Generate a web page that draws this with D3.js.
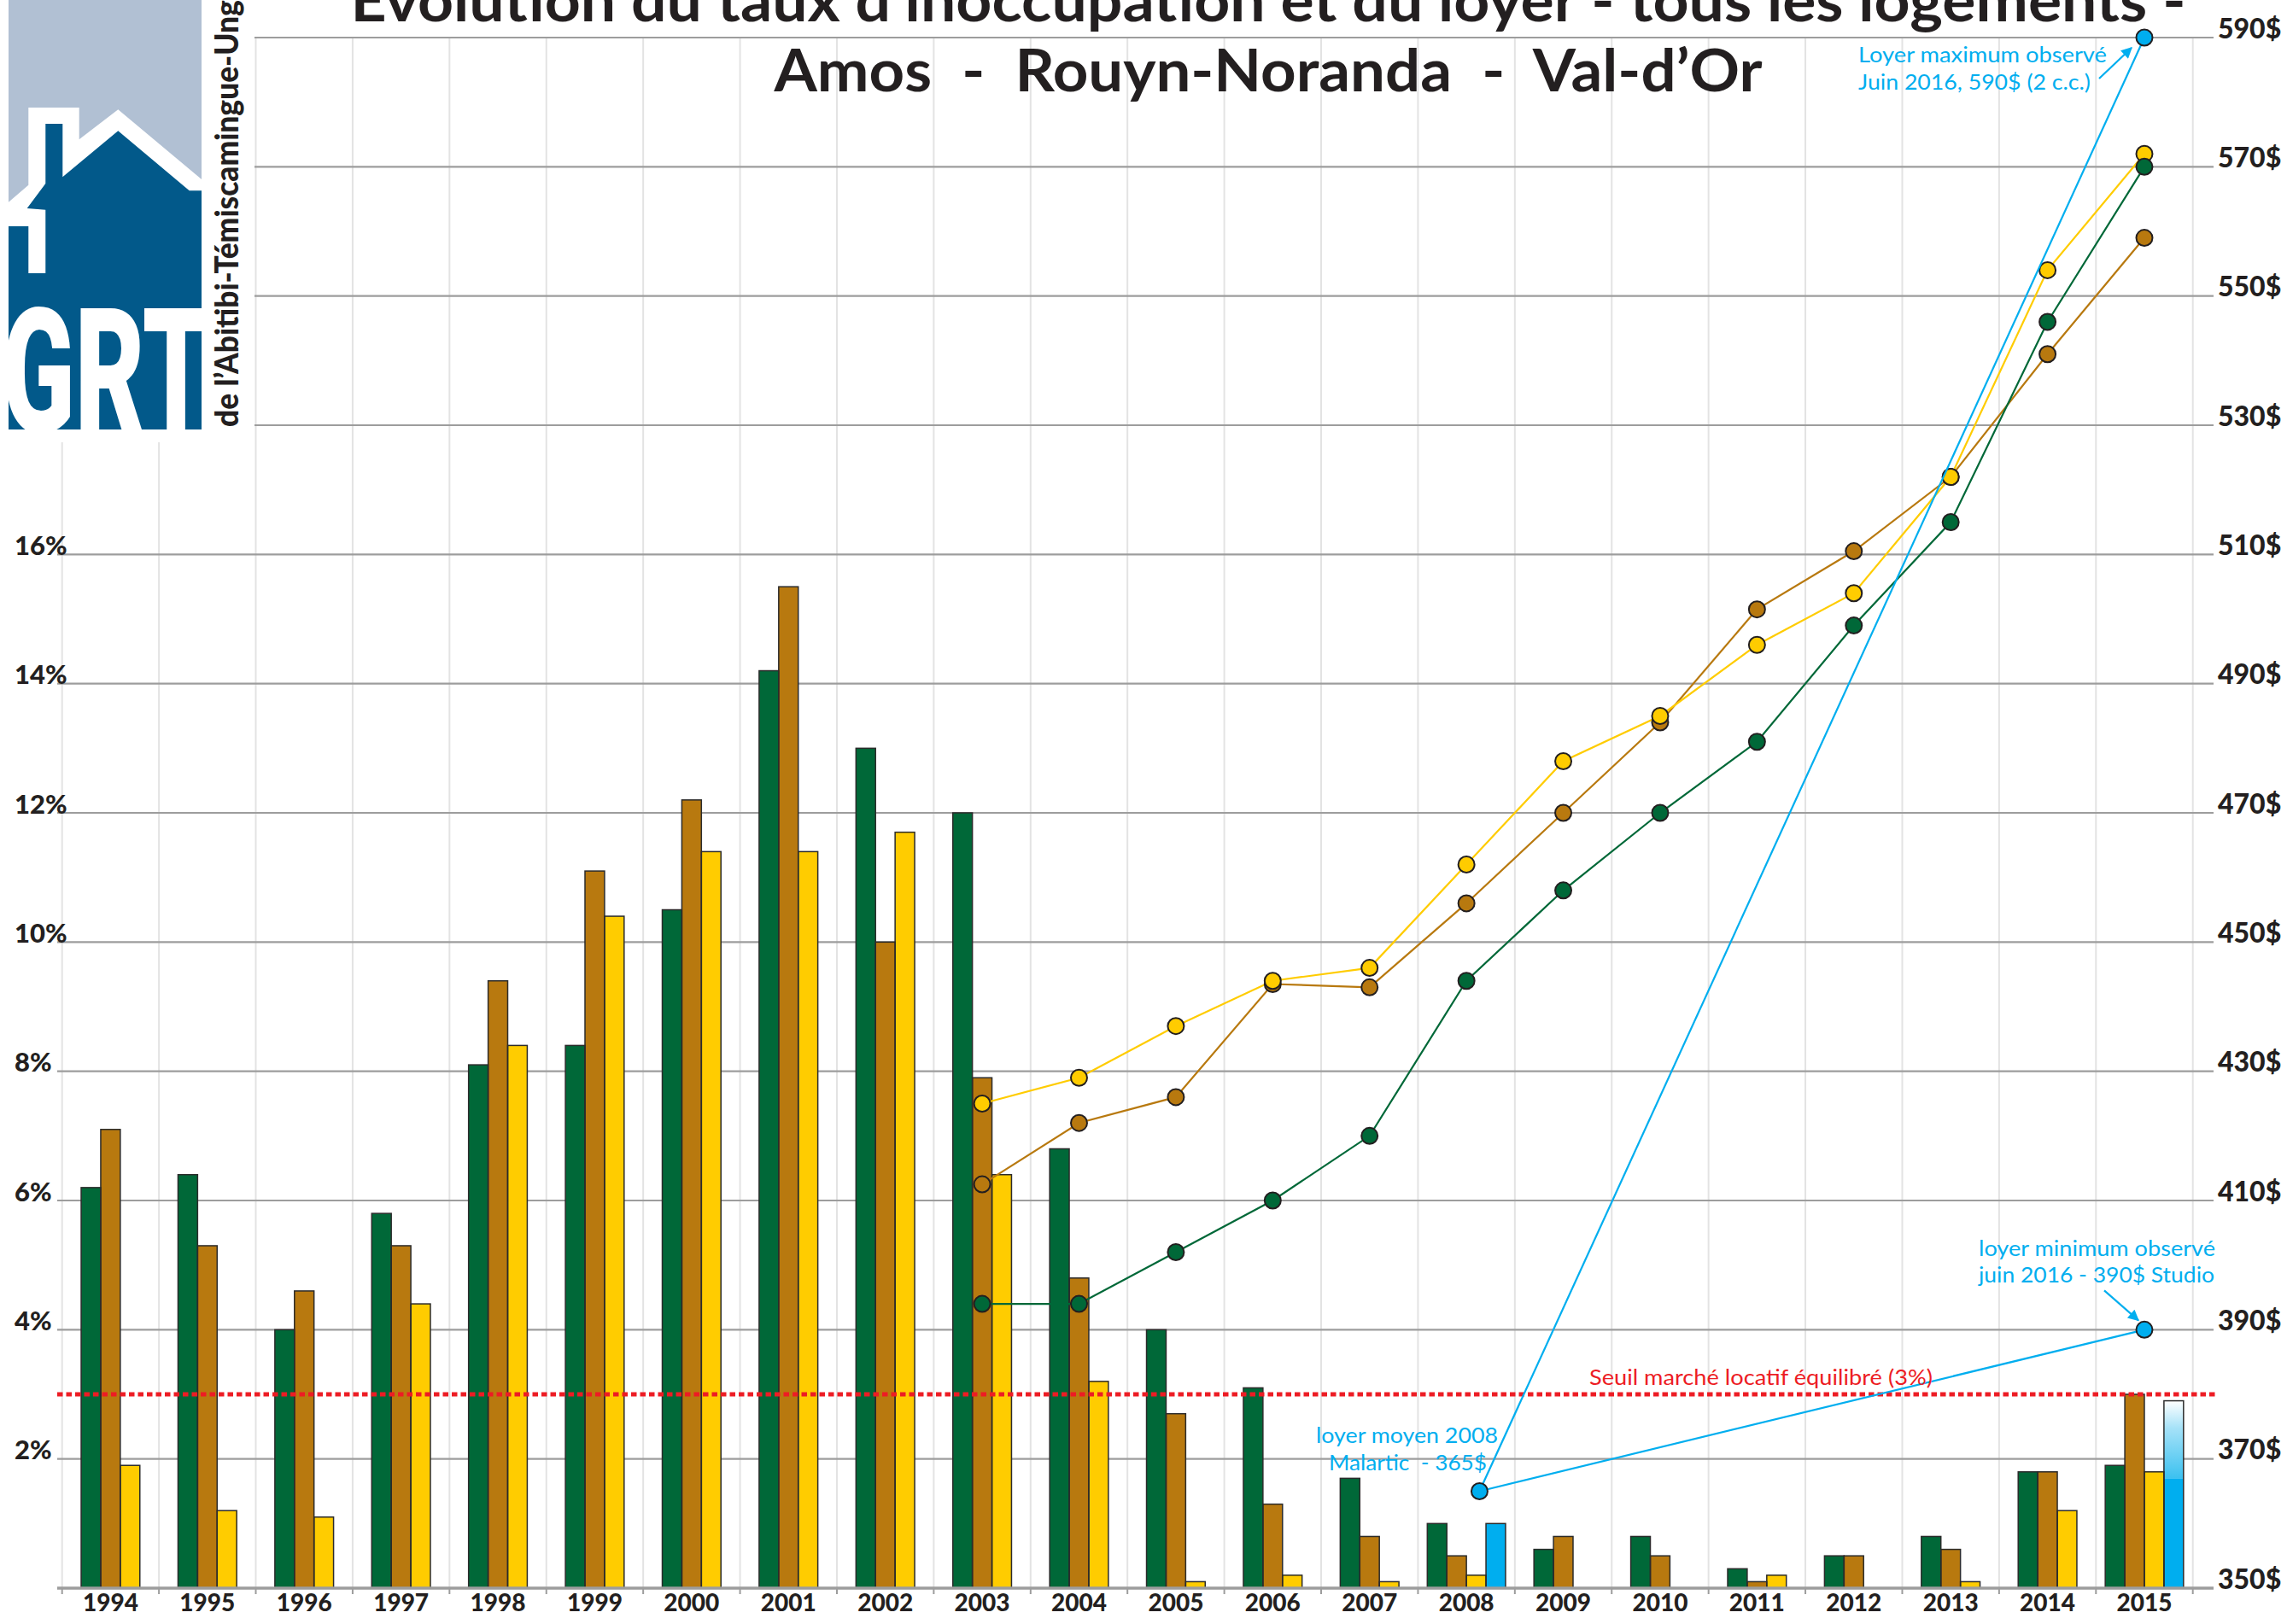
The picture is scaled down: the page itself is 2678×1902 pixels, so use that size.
<!DOCTYPE html>
<html>
<head>
<meta charset="utf-8">
<script src="https://cdn.jsdelivr.net/npm/d3@7"></script>
<style>
  html, body { margin: 0; padding: 0; background: #ffffff; }
  svg { display: block; }
</style>
</head>
<body>
<svg id="chart" width="2678" height="1902"></svg>
<script>
// ---- Data ---------------------------------------------------------------
const years = [1994, 1995, 1996, 1997, 1998, 1999, 2000, 2001, 2002, 2003, 2004,
               2005, 2006, 2007, 2008, 2009, 2010, 2011, 2012, 2013, 2014, 2015];

// Vacancy rate (%) per city
const vacAmos    = [6.2, 6.4, 4.0, 5.8, 8.1, 8.4, 10.5, 14.2, 13.0, 12.0, 6.8,
                    4.0, 3.1, 1.7, 1.0, 0.6, 0.8, 0.3, 0.5, 0.8, 1.8, 1.9];
const vacRouyn   = [7.1, 5.3, 4.6, 5.3, 9.4, 11.1, 12.2, 15.5, 10.0, 7.9, 4.8,
                    2.7, 1.3, 0.8, 0.5, 0.8, 0.5, 0.1, 0.5, 0.6, 1.8, 3.0];
const vacValdor  = [1.9, 1.2, 1.1, 4.4, 8.4, 10.4, 11.4, 11.4, 11.7, 6.4, 3.2,
                    0.1, 0.2, 0.1, 0.2, 0.0, 0.0, 0.2, 0.0, 0.1, 1.2, 1.8];
const malarticYears   = [2008, 2015];
const vacMalartic     = [1.0, 2.9];   // top of the bar
const vacMalarticSolid = [1.0, 1.7];  // solid part, the rest is shaded

// Average rent ($) per city
const rentYears  = [2003, 2004, 2005, 2006, 2007, 2008, 2009, 2010, 2011, 2012, 2013, 2014, 2015];
const rentAmos   = [394, 394, 402, 410, 420, 444, 458, 470, 481, 499, 515, 546, 570];
const rentRouyn  = [412.5, 422, 426, 443.5, 443, 456, 470, 484, 501.5, 510.5, 522, 541, 559];
const rentValdor = [425, 429, 437, 444, 446, 462, 478, 485, 496, 504, 522, 554, 572];

// Malartic reference rents
const malarticRent2008 = 365;
const rentMax2016 = 590;
const rentMin2016 = 390;
const equilibriumRate = 3;

// Axis ticks
const rentTicks = [350, 370, 390, 410, 430, 450, 470, 490, 510, 530, 550, 570, 590];
const pctTicks  = [2, 4, 6, 8, 10, 12, 14, 16];

// Colours
const C = {
  amos: "#006838", rouyn: "#B8790F", valdor: "#FFCC00", malartic: "#00AEEF",
  ink: "#231F20", grid: "#9d9d9d", vgrid: "#e3e3e3", red: "#ED1C24"
};

// ---- Setup ---------------------------------------------------------------
const W = 2678, H = 1902;
const svg = d3.select("#chart");
svg.append("rect").attr("width", W).attr("height", H).attr("fill", "#fff");

const defs = svg.append("defs");
const grad = defs.append("linearGradient").attr("id", "malarticShade")
  .attr("x1", 0).attr("x2", 0).attr("y1", 0).attr("y2", 1);
grad.append("stop").attr("offset", "0%").attr("stop-color", "#ffffff");
grad.append("stop").attr("offset", "35%").attr("stop-color", "#a6e2f8");
grad.append("stop").attr("offset", "100%").attr("stop-color", "#3cc1f0");

defs.append("marker").attr("id", "arrowBlue")
  .attr("viewBox", "0 0 10 10").attr("refX", 9).attr("refY", 5)
  .attr("markerUnits", "userSpaceOnUse")
  .attr("markerWidth", 17).attr("markerHeight", 13).attr("orient", "auto")
  .append("path").attr("d", "M0,0 L10,5 L0,10 Z").attr("fill", C.malartic);

const x = d3.scaleBand().domain(years).range([72.7, 2567.7]).paddingInner(0).paddingOuter(0);
const bw = x.bandwidth();
const xc = d => x(d) + bw / 2;
const yRent = d3.scaleLinear().domain([350, 590]).range([1860, 44]);
const yPct = d3.scaleLinear().domain([0, 16]).range([yRent(350), yRent(510)]);

const gridLeft = 67, gridRight = 2592;
const font = "Lato, 'Open Sans', 'DejaVu Sans', sans-serif";

// ---- Grid ----------------------------------------------------------------
const edges = years.map(d => x(d)).concat([x(years[years.length - 1]) + bw]);
svg.append("g").selectAll("line").data(edges).join("line")
  .attr("x1", d => d).attr("x2", d => d)
  .attr("y1", yRent(590)).attr("y2", yRent(350))
  .attr("stroke", C.vgrid).attr("stroke-width", 2);

svg.append("g").selectAll("line").data(rentTicks.filter(t => t !== 350)).join("line")
  .attr("x1", gridLeft).attr("x2", gridRight)
  .attr("y1", d => yRent(d)).attr("y2", d => yRent(d))
  .attr("stroke", C.grid).attr("stroke-width", 2.2);

// ---- Logo ----------------------------------------------------------------
svg.append("rect").attr("x", 0).attr("y", 0).attr("width", 298).attr("height", 518).attr("fill", "#fff");
const logo = svg.append("g");
defs.append("clipPath").attr("id", "logoClip")
  .append("rect").attr("x", 10).attr("y", 0).attr("width", 226).attr("height", 503);
logo.append("rect").attr("x", 10).attr("y", 0).attr("width", 226).attr("height", 503).attr("fill", "#B1C0D3");
logo.append("polygon").attr("fill", "#ffffff")
  .attr("points", "10,236.7 33.3,216.7 33.3,126 92.7,126 92.7,163.3 138.3,128.3 236,210 236,503 10,503");
logo.append("polygon").attr("fill", "#02598A")
  .attr("points", "53.3,145 73.3,145 73.3,207.3 138.3,153.3 221.7,223.3 236,223.3 236,503 10,503 10,265 33.3,265 33.3,320 53.3,320 53.3,245.7 31.7,244 53.3,215");
logo.append("g").attr("clip-path", "url(#logoClip)")
  .append("text").attr("x", 2).attr("y", 506).attr("font-size", 204)
  .attr("font-family", "Roboto, 'Liberation Sans', sans-serif").attr("font-weight", 900)
  .attr("fill", "#ffffff")
  .attr("textLength", 244).attr("lengthAdjust", "spacingAndGlyphs").text("GRT");

const tagline = "de l\u2019Abitibi-T\u00e9miscamingue-Ungava";
const tag = svg.append("text").attr("font-family", font).attr("font-weight", 900)
  .attr("font-size", 38).attr("fill", C.ink).text(tagline);
const prefixLen = tag.node().getSubStringLength(0, 30);
const sx = 500 / prefixLen;
tag.attr("transform", `translate(279,500) rotate(-90) scale(${sx},1)`);

// ---- Bars ----------------------------------------------------------------
const barSeries = [
  { key: "Amos", color: C.amos, yrs: years, vals: vacAmos },
  { key: "Rouyn-Noranda", color: C.rouyn, yrs: years, vals: vacRouyn },
  { key: "Val-d'Or", color: C.valdor, yrs: years, vals: vacValdor },
  { key: "Malartic", color: C.malartic, yrs: malarticYears, vals: vacMalartic, solid: vacMalarticSolid }
];
const barW = bw * 0.202;
const bars = [];
years.forEach(yr => {
  const slots = barSeries.filter(s => s.yrs.includes(yr));
  slots.forEach((s, i) => {
    const k = s.yrs.indexOf(yr);
    bars.push({ yr, i, n: slots.length, v: s.vals[k], solid: s.solid ? s.solid[k] : s.vals[k], color: s.color });
  });
});
const barX = d => x(d.yr) + bw / 2 - d.n * barW / 2 + d.i * barW;
const drawn = bars.filter(d => d.v > 0);
const gBars = svg.append("g");
// shaded upper part where the value exceeds the solid part
gBars.selectAll("rect.shade").data(drawn.filter(d => d.solid < d.v)).join("rect")
  .attr("class", "shade")
  .attr("x", barX).attr("width", barW)
  .attr("y", d => yPct(d.v)).attr("height", d => yPct(d.solid) - yPct(d.v))
  .attr("fill", "url(#malarticShade)");
gBars.selectAll("rect.solid").data(drawn).join("rect")
  .attr("class", "solid")
  .attr("x", barX).attr("width", barW)
  .attr("y", d => yPct(d.solid)).attr("height", d => yPct(0) - yPct(d.solid))
  .attr("fill", d => d.color);
gBars.selectAll("rect.outline").data(drawn).join("rect")
  .attr("class", "outline")
  .attr("x", barX).attr("width", barW)
  .attr("y", d => yPct(d.v)).attr("height", d => yPct(0) - yPct(d.v))
  .attr("fill", "none").attr("stroke", "#2b2b2b").attr("stroke-width", 1.5);

// ---- Baseline and ticks ----------------------------------------------------
svg.append("line").attr("x1", gridLeft).attr("x2", gridRight)
  .attr("y1", yRent(350)).attr("y2", yRent(350))
  .attr("stroke", C.grid).attr("stroke-width", 3.5);
svg.append("g").selectAll("line").data(edges).join("line")
  .attr("x1", d => d).attr("x2", d => d)
  .attr("y1", yRent(350)).attr("y2", yRent(350) + 7)
  .attr("stroke", C.grid).attr("stroke-width", 2);

// ---- Equilibrium threshold --------------------------------------------------
svg.append("line").attr("x1", gridLeft).attr("x2", 2596)
  .attr("y1", yPct(equilibriumRate)).attr("y2", yPct(equilibriumRate))
  .attr("stroke", C.red).attr("stroke-width", 5).attr("stroke-dasharray", "6.5 4");

// ---- Rent lines ------------------------------------------------------------
const rentSeries = [
  { key: "Rouyn-Noranda", color: C.rouyn, vals: rentRouyn },
  { key: "Val-d'Or", color: C.valdor, vals: rentValdor },
  { key: "Amos", color: C.amos, vals: rentAmos }
];
const line = d3.line().x((d, i) => xc(rentYears[i])).y(d => yRent(d));
svg.append("g").selectAll("path").data(rentSeries).join("path")
  .attr("d", d => line(d.vals)).attr("fill", "none")
  .attr("stroke", d => d.color).attr("stroke-width", 2.2);
rentSeries.forEach(s => {
  svg.append("g").selectAll("circle").data(s.vals).join("circle")
    .attr("cx", (d, i) => xc(rentYears[i])).attr("cy", d => yRent(d)).attr("r", 9.5)
    .attr("fill", s.color).attr("stroke", C.ink).attr("stroke-width", 2);
});

// ---- Malartic reference rents ------------------------------------------------
const pStart = { x: x(2008) + bw * 0.635, y: yRent(malarticRent2008) };
const pMax = { x: xc(2015), y: yRent(rentMax2016) };
const pMin = { x: xc(2015), y: yRent(rentMin2016) };
const gM = svg.append("g");
[pMax, pMin].forEach(p => {
  gM.append("line").attr("x1", pStart.x).attr("y1", pStart.y).attr("x2", p.x).attr("y2", p.y)
    .attr("stroke", C.malartic).attr("stroke-width", 2.2);
});
gM.selectAll("circle").data([pStart, pMax, pMin]).join("circle")
  .attr("cx", d => d.x).attr("cy", d => d.y).attr("r", 9.5)
  .attr("fill", C.malartic).attr("stroke", C.ink).attr("stroke-width", 2);

// arrows pointing at the 2016 extremes
gM.append("line").attr("x1", pMax.x - 53).attr("y1", pMax.y + 48)
  .attr("x2", pMax.x - 15).attr("y2", pMax.y + 12)
  .attr("stroke", C.malartic).attr("stroke-width", 2.2).attr("marker-end", "url(#arrowBlue)");
gM.append("line").attr("x1", pMin.x - 47).attr("y1", pMin.y - 46)
  .attr("x2", pMin.x - 7).attr("y2", pMin.y - 11)
  .attr("stroke", C.malartic).attr("stroke-width", 2.2).attr("marker-end", "url(#arrowBlue)");

// ---- Axes ------------------------------------------------------------------
const xAxis = svg.append("g").attr("transform", `translate(0,${yRent(350)})`)
  .call(d3.axisBottom(x).tickSize(0).tickFormat(d => String(d)));
xAxis.select(".domain").remove();
xAxis.selectAll("text").attr("y", 27).attr("dy", 0)
  .attr("font-family", font).attr("font-weight", 900).attr("font-size", 28).attr("fill", C.ink);

const yLeft = svg.append("g").call(d3.axisLeft(yPct).tickValues(pctTicks).tickFormat(d => d + "%").tickSize(0));
yLeft.select(".domain").remove();
yLeft.selectAll("text").attr("x", 17).attr("dy", 0).attr("text-anchor", "start")
  .attr("font-family", font).attr("font-weight", 900).attr("font-size", 31).attr("fill", C.ink);

const yRight = svg.append("g").call(d3.axisRight(yRent).tickValues(rentTicks).tickFormat(d => d + "$").tickSize(0));
yRight.select(".domain").remove();
yRight.selectAll("text").attr("x", 2597).attr("dy", 0).attr("text-anchor", "start")
  .attr("font-family", font).attr("font-weight", 900).attr("font-size", 32).attr("fill", C.ink);

// ---- Titles ----------------------------------------------------------------
const title = svg.append("g").attr("font-family", font).attr("font-weight", 700)
  .attr("font-size", 68).attr("fill", C.ink).attr("text-anchor", "middle");
title.append("text").attr("x", 1485).attr("y", 25)
  .attr("textLength", 2149).attr("lengthAdjust", "spacingAndGlyphs")
  .text("\u00c9volution du taux d\u2019inoccupation et du loyer - tous les logements -");
title.append("text").attr("x", 1485).attr("y", 107)
  .attr("textLength", 1157).attr("lengthAdjust", "spacingAndGlyphs")
  .attr("xml:space", "preserve")
  .text("Amos  -  Rouyn-Noranda  -  Val-d\u2019Or");

// ---- Annotations -------------------------------------------------------------
const notes = [
  { t: "Loyer maximum observ\u00e9", x: 2176, y: 73, w: 291, c: C.malartic },
  { t: "Juin 2016, 590$ (2 c.c.)", x: 2176, y: 105, w: 272, c: C.malartic },
  { t: "loyer minimum observ\u00e9", x: 2317, y: 1471, w: 277, c: C.malartic },
  { t: "juin 2016 - 390$ Studio", x: 2317, y: 1502, w: 276, c: C.malartic },
  { t: "loyer moyen 2008", x: 1541, y: 1690, w: 213, c: C.malartic },
  { t: "Malartic  - 365$", x: 1556, y: 1722, w: 185, c: C.malartic },
  { t: "Seuil march\u00e9 locatif \u00e9quilibr\u00e9 (3%)", x: 1861, y: 1622, w: 402, c: C.red }
];
svg.append("g").selectAll("text").data(notes).join("text")
  .attr("x", d => d.x).attr("y", d => d.y)
  .attr("textLength", d => d.w).attr("lengthAdjust", "spacingAndGlyphs")
  .attr("xml:space", "preserve")
  .attr("font-family", font).attr("font-weight", 400).attr("font-size", 25)
  .attr("fill", d => d.c).text(d => d.t);
</script>
</body>
</html>
